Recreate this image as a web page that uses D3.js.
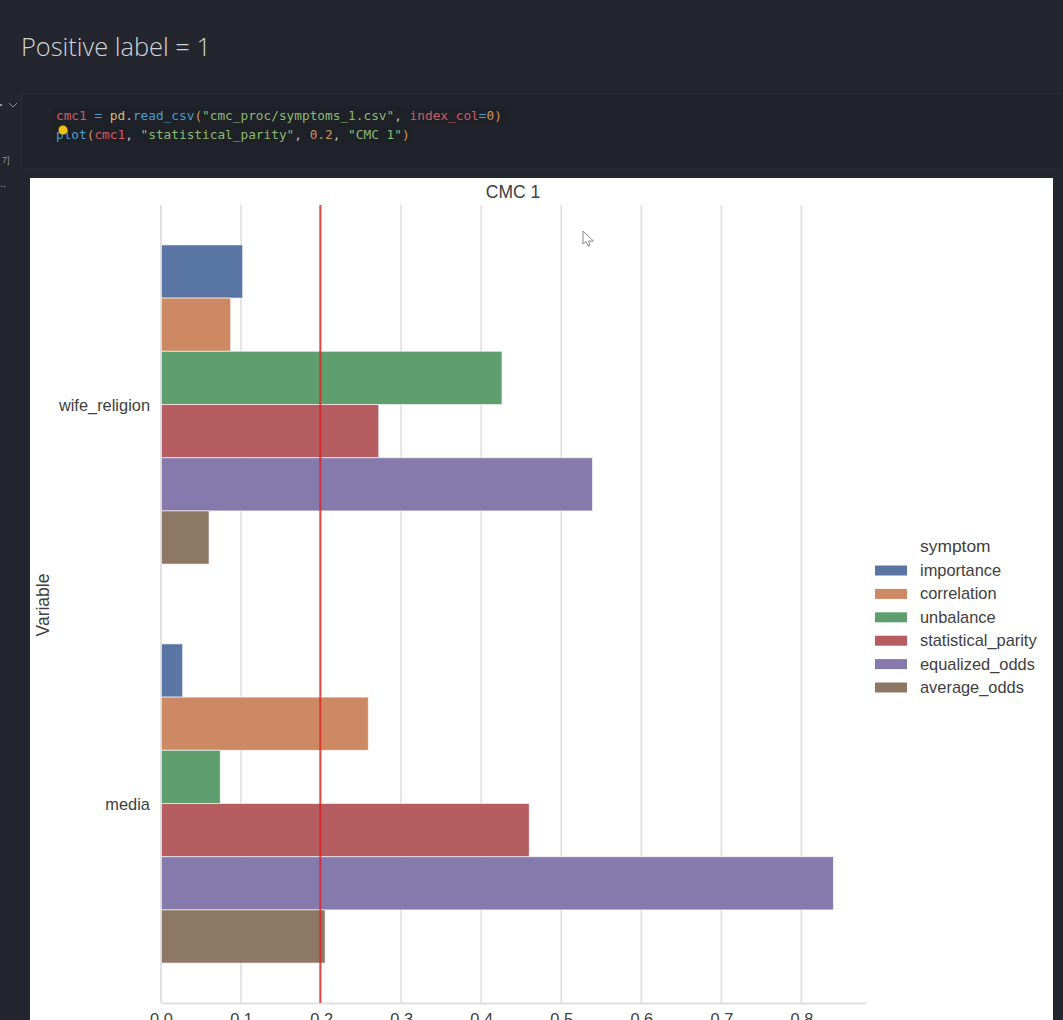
<!DOCTYPE html>
<html>
<head>
<meta charset="utf-8">
<script src="https://cdn.jsdelivr.net/npm/d3@7/dist/d3.min.js"></script>
<style>
  html, body { margin: 0; padding: 0; background: #23262f; overflow: hidden; }
  svg { display: block; }
</style>
</head>
<body>
<svg id="page" width="1063" height="1020"></svg>
<script>
const variables = ["wife_religion", "media"];
const symptoms = ["importance", "correlation", "unbalance", "statistical_parity", "equalized_odds", "average_odds"];
const palette = ["#5975a4", "#cc8963", "#5f9e6e", "#b55d60", "#857aab", "#8d7866"];
const wifeReligion = [0.102, 0.087, 0.426, 0.272, 0.539, 0.06];
const media = [0.027, 0.259, 0.074, 0.46, 0.84, 0.205];
const xTicks = [0, 0.1, 0.2, 0.3, 0.4, 0.5, 0.6, 0.7, 0.8];
const threshold = 0.2;
const codeLines = [
  [["cmc1", "#cf5c63"], [" = ", "#4a9bd0"], ["pd", "#d8bb72"], [".", "#b8bcc4"], ["read_csv", "#4a9bd0"], ["(", "#d0964f"],
   ["\"cmc_proc/symptoms_1.csv\"", "#8dba70"], [", ", "#b8bcc4"], ["index_col", "#cf5c63"], ["=", "#4a9bd0"], ["0", "#c89560"], [")", "#d0964f"]],
  [["plot", "#4a9bd0"], ["(", "#d0964f"], ["cmc1", "#cf5c63"], [", ", "#b8bcc4"], ["\"statistical_parity\"", "#8dba70"], [", ", "#b8bcc4"],
   ["0.2", "#c89560"], [", ", "#b8bcc4"], ["\"CMC 1\"", "#8dba70"], [")", "#d0964f"]]
];

const svg = d3.select("#page");
const sans = "'Liberation Sans', Arial, sans-serif";
const ink = "#404040";

// Notebook chrome around the figure
svg.append("text").attr("x", 21).attr("y", 56)
  .attr("font-family", "'Open Sans', sans-serif").attr("font-weight", 300)
  .attr("font-size", 25.4).attr("fill", "#d2d3d6").text("Positive label = 1");

svg.append("rect").attr("x", 22).attr("y", 94).attr("width", 1041).attr("height", 75)
  .attr("fill", "#20232c").attr("stroke", "#2b2e38");
svg.append("rect").attr("x", 54).attr("y", 107).attr("width", 455).attr("height", 18).attr("fill", "#1e2128");
svg.append("rect").attr("x", 54).attr("y", 125).attr("width", 356).attr("height", 18).attr("fill", "#1e2128");

const code = svg.append("g").attr("font-family", "'DejaVu Sans Mono', monospace").attr("font-size", 12.77);
codeLines.forEach((line, i) => {
  const t = code.append("text").attr("x", 56).attr("y", 120 + i * 19).attr("xml:space", "preserve");
  line.forEach(([s, c]) => t.append("tspan").attr("fill", c).text(s));
});
svg.append("circle").attr("cx", 63).attr("cy", 130).attr("r", 4.5).attr("fill", "#f2c010");

// Cell gutter glyphs
svg.append("path").attr("d", "M9 103 l4 4 l4 -4").attr("fill", "none").attr("stroke", "#8a8d95").attr("stroke-width", 1);
svg.append("circle").attr("cx", 1).attr("cy", 105).attr("r", 1.2).attr("fill", "#9a9da5");
svg.append("text").attr("x", 2).attr("y", 163).attr("font-size", 9).attr("font-family", sans).attr("fill", "#8a8d95").text("7]");
svg.append("text").attr("x", 0).attr("y", 187).attr("font-size", 11).attr("font-family", sans).attr("fill", "#9a9da5").text("..");

// Figure canvas
svg.append("rect").attr("x", 30).attr("y", 178).attr("width", 1023).attr("height", 842).attr("fill", "#ffffff");

const plotTop = 205, plotBottom = 1003, plotLeft = 161, plotRight = 866;
const x = d3.scaleLinear().domain([0, 0.8807]).range([plotLeft, plotRight]);
const y = d3.scaleBand().domain(variables).range([plotTop, plotBottom]).paddingInner(0.2).paddingOuter(0.1);
const yInner = d3.scaleBand().domain(symptoms).range([0, y.bandwidth()]);
const color = d3.scaleOrdinal().domain(symptoms).range(palette);
const valuesByVariable = { wife_religion: wifeReligion, media: media };

// Vertical gridlines
svg.append("g").selectAll("line").data(xTicks).join("line")
  .attr("x1", d => x(d)).attr("x2", d => x(d))
  .attr("y1", plotTop).attr("y2", plotBottom)
  .attr("stroke", "#e2e2e2").attr("stroke-width", 1.8);

// Bars grouped by variable
const groups = svg.append("g").selectAll("g").data(variables).join("g")
  .attr("transform", d => `translate(0,${y(d)})`);
groups.selectAll("rect")
  .data(v => symptoms.map((s, i) => ({ symptom: s, value: valuesByVariable[v][i] })))
  .join("rect")
  .attr("x", x(0))
  .attr("y", d => yInner(d.symptom))
  .attr("width", d => x(d.value) - x(0))
  .attr("height", yInner.bandwidth())
  .attr("fill", d => color(d.symptom))
  .attr("stroke", "#ffffff").attr("stroke-opacity", 0.6).attr("stroke-width", 1);

// Left spine and bottom axis
const spines = "#e0e0e0";
svg.append("line").attr("x1", plotLeft).attr("x2", plotLeft).attr("y1", plotTop).attr("y2", plotBottom)
  .attr("stroke", spines).attr("stroke-width", 1.8);
const xAxis = svg.append("g").attr("transform", `translate(0,${plotBottom})`)
  .call(d3.axisBottom(x).tickValues(xTicks).tickFormat(d3.format(".1f")).tickSize(0).tickPadding(10));
xAxis.select(".domain").attr("stroke", spines).attr("stroke-width", 1.8);
xAxis.selectAll("text").attr("font-family", sans).attr("font-size", 16.4).attr("fill", ink);

// Category labels
const yAxis = svg.append("g").attr("transform", `translate(${plotLeft},0)`)
  .call(d3.axisLeft(y).tickSize(0).tickPadding(11));
yAxis.select(".domain").remove();
yAxis.selectAll("text").attr("font-family", sans).attr("font-size", 16.4).attr("fill", ink).attr("dy", "0.42em");

// Threshold marker, nudged to sit on the left half of its gridline
svg.append("line").attr("x1", x(threshold) - 0.8).attr("x2", x(threshold) - 0.8)
  .attr("y1", plotTop).attr("y2", plotBottom)
  .attr("stroke", "#e02020").attr("stroke-opacity", 0.8).attr("stroke-width", 2);

// Titles
svg.append("text").attr("x", 513).attr("y", 198).attr("text-anchor", "middle")
  .attr("font-family", sans).attr("font-size", 17.5).attr("fill", ink).text("CMC 1");
svg.append("text").attr("transform", "translate(49,605) rotate(-90)").attr("text-anchor", "middle")
  .attr("font-family", sans).attr("font-size", 17.5).attr("fill", ink).text("Variable");

// Legend
const legendY = d3.scalePoint().domain(symptoms).range([570.5, 687.5]);
svg.append("text").attr("x", 920).attr("y", 552)
  .attr("font-family", sans).attr("font-size", 17.4).attr("fill", ink).text("symptom");
const legend = svg.append("g").selectAll("g").data(symptoms).join("g")
  .attr("transform", d => `translate(0,${legendY(d)})`);
legend.append("rect").attr("x", 875).attr("y", -5).attr("width", 32).attr("height", 10)
  .attr("fill", d => color(d));
legend.append("text").attr("x", 920).attr("y", 5.5)
  .attr("font-family", sans).attr("font-size", 16.4).attr("fill", ink).text(d => d);

// Mouse pointer left over the figure
svg.append("path").attr("d", "M583 231 L583 244 L586 241.5 L588 246 L590 245 L588.5 241 L593.5 241 Z")
  .attr("fill", "#ffffff").attr("stroke", "#8a8a8a").attr("stroke-width", 1);
</script>
</body>
</html>
